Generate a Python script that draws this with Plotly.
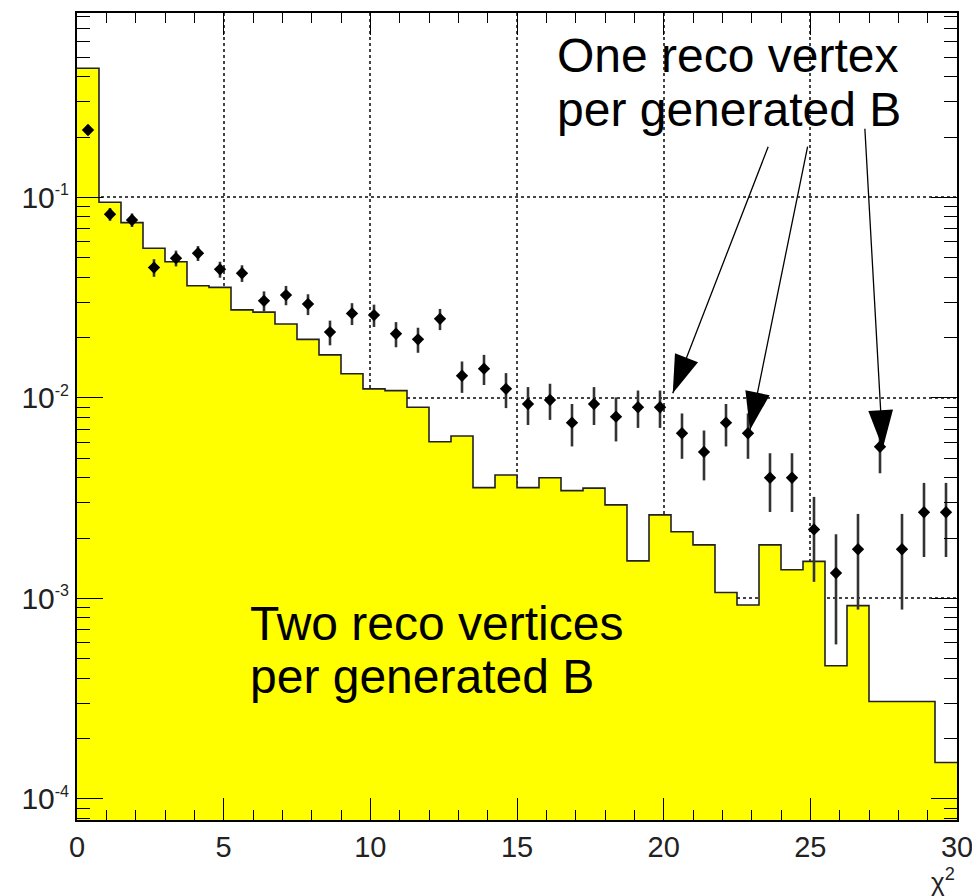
import math

import plotly.graph_objects as go

# 40 bins of width 0.75 between chi2 = 0 and 30
bin_width = 0.75
n_bins = 40
bin_edges = [i * bin_width for i in range(n_bins + 1)]
bin_centers = [(bin_edges[i] + bin_edges[i + 1]) / 2 for i in range(n_bins)]

# yellow histogram: two reco vertices per generated B
two_vertices = [
    0.441, 0.0946, 0.0749, 0.0558, 0.0478, 0.0363, 0.0356, 0.0275, 0.0268, 0.0234,
    0.0196, 0.0164, 0.0132, 0.0111, 0.01088, 0.00899, 0.00605, 0.00646, 0.00357, 0.00413,
    0.00357, 0.00400, 0.00345, 0.00355, 0.00293, 0.00154, 0.00261, 0.00215, 0.00185, 0.00107,
    0.000928, 0.00185, 0.00139, 0.00153, 0.000462, 0.000921, 0.000306, 0.000306, 0.000306, 0.000152,
]

# black points: one reco vertex per generated B
one_vertex = [
    0.217, 0.0825, 0.0772, 0.0447, 0.0498, 0.0527, 0.0438, 0.0419, 0.0305, 0.0326,
    0.0294, 0.0213, 0.0264, 0.0259, 0.0209, 0.0196, 0.0248, 0.0129, 0.0140, 0.0111,
    0.00933, 0.00977, 0.00753, 0.00933, 0.00807, 0.00899, 0.00899, 0.00667, 0.00538, 0.00753,
    0.00667, 0.0040, 0.0040, 0.00221, 0.00134, 0.00176, 0.00571, 0.00176, 0.00269, 0.00269,
]
one_vertex_err = [
    0.012, 0.006, 0.006, 0.0045, 0.0045, 0.0045, 0.004, 0.004, 0.0035, 0.0036,
    0.0035, 0.003, 0.0033, 0.0033, 0.003, 0.0028, 0.003, 0.0023, 0.0024, 0.0022,
    0.0020, 0.0020, 0.0018, 0.0020, 0.0020, 0.0019, 0.0019, 0.0017, 0.0015, 0.0018,
    0.0017, 0.0013, 0.0013, 0.0010, 0.00075, 0.00088, 0.0015, 0.00088, 0.00108, 0.00108,
]

# y tick labels (decades)
y_tick_values = [1e-4, 1e-3, 1e-2, 1e-1]
y_tick_exponents = ["-4", "-3", "-2", "-1"]

# arrows: tip (x, y in data units) and offset of the tail in pixels
arrow_tips = [(20.31, 0.01055), (22.94, 0.00692), (27.47, 0.00561)]
arrow_tails = [(96, -248), (58, -285), (-18, -321)]

font = "Liberation Sans, Arial, sans-serif"

fig = go.Figure()

fig.add_trace(
    go.Scatter(
        x=bin_edges,
        y=two_vertices + [two_vertices[-1]],
        mode="lines",
        line=dict(shape="hv", color="#222222", width=1.6),
        fill="tozeroy",
        fillcolor="#ffff00",
        showlegend=False,
    )
)

fig.add_trace(
    go.Scatter(
        x=bin_centers,
        y=one_vertex,
        mode="markers",
        marker=dict(symbol="diamond", size=9.5, color="black"),
        error_y=dict(type="data", array=one_vertex_err, width=0, thickness=2.6, color="#333333"),
        showlegend=False,
    )
)

# arrow lines
for (x, y), (ax, ay) in zip(arrow_tips, arrow_tails):
    fig.add_annotation(
        x=x, y=math.log10(y), xref="x", yref="y",
        ax=ax, ay=ay, showarrow=True, arrowhead=0,
        arrowwidth=1.3, arrowcolor="black", text="",
    )

# arrow heads
fig.add_trace(
    go.Scatter(
        x=[t[0] for t in arrow_tips],
        y=[t[1] for t in arrow_tips],
        mode="markers",
        marker=dict(
            symbol="arrow",
            size=40,
            color="black",
            angle=[math.degrees(math.atan2(-ax, ay)) for ax, ay in arrow_tails],
        ),
        showlegend=False,
        cliponaxis=False,
    )
)

text_lines = [
    ("One reco vertex", 0.5432, 0.9471),
    ("per generated B", 0.5432, 0.8810),
    ("Two reco vertices", 0.1943, 0.2429),
    ("per generated B", 0.1943, 0.1772),
]
for text, x, y in text_lines:
    fig.add_annotation(
        x=x, y=y, xref="paper", yref="paper", text=text, showarrow=False,
        xanchor="left", yanchor="middle", font=dict(family=font, size=48, color="black"),
    )

fig.add_annotation(
    x=1.0, y=-0.0745, xref="paper", yref="paper", text="χ<sup>2</sup>", showarrow=False,
    xanchor="right", yanchor="middle", font=dict(family=font, size=26, color="#222222"),
)

axis_style = dict(
    ticks="inside",
    tickwidth=1.3,
    tickcolor="black",
    showline=True,
    linecolor="black",
    linewidth=2,
    mirror="allticks",
    showgrid=True,
    gridcolor="#444444",
    gridwidth=2,
    griddash="dot",
    zeroline=False,
    automargin=False,
)

fig.update_xaxes(
    range=[0, 30],
    dtick=5,
    tick0=0,
    ticklen=22,
    minor=dict(ticks="inside", ticklen=10, dtick=1, tickcolor="black", showgrid=False),
    tickfont=dict(family=font, size=29, color="#222222"),
    **axis_style,
)

fig.update_yaxes(
    type="log",
    range=[-4.105, -0.080],
    tickmode="array",
    tickvals=y_tick_values,
    ticktext=[
        f'10<sup><span style="font-size:16px">{e}</span></sup>' for e in y_tick_exponents
    ],
    ticklen=26,
    minor=dict(ticks="inside", ticklen=13, dtick="D1", tickcolor="black", showgrid=False),
    tickfont=dict(family=font, size=30, color="#222222"),
    **axis_style,
)

# the page body adds an 8 px margin, so the figure is a bit smaller than the window
fig.update_layout(
    width=972,
    height=888,
    margin=dict(l=69, r=23, t=5, b=76),
    paper_bgcolor="white",
    plot_bgcolor="white",
    font=dict(family=font),
)

fig.write_html("out.html")
